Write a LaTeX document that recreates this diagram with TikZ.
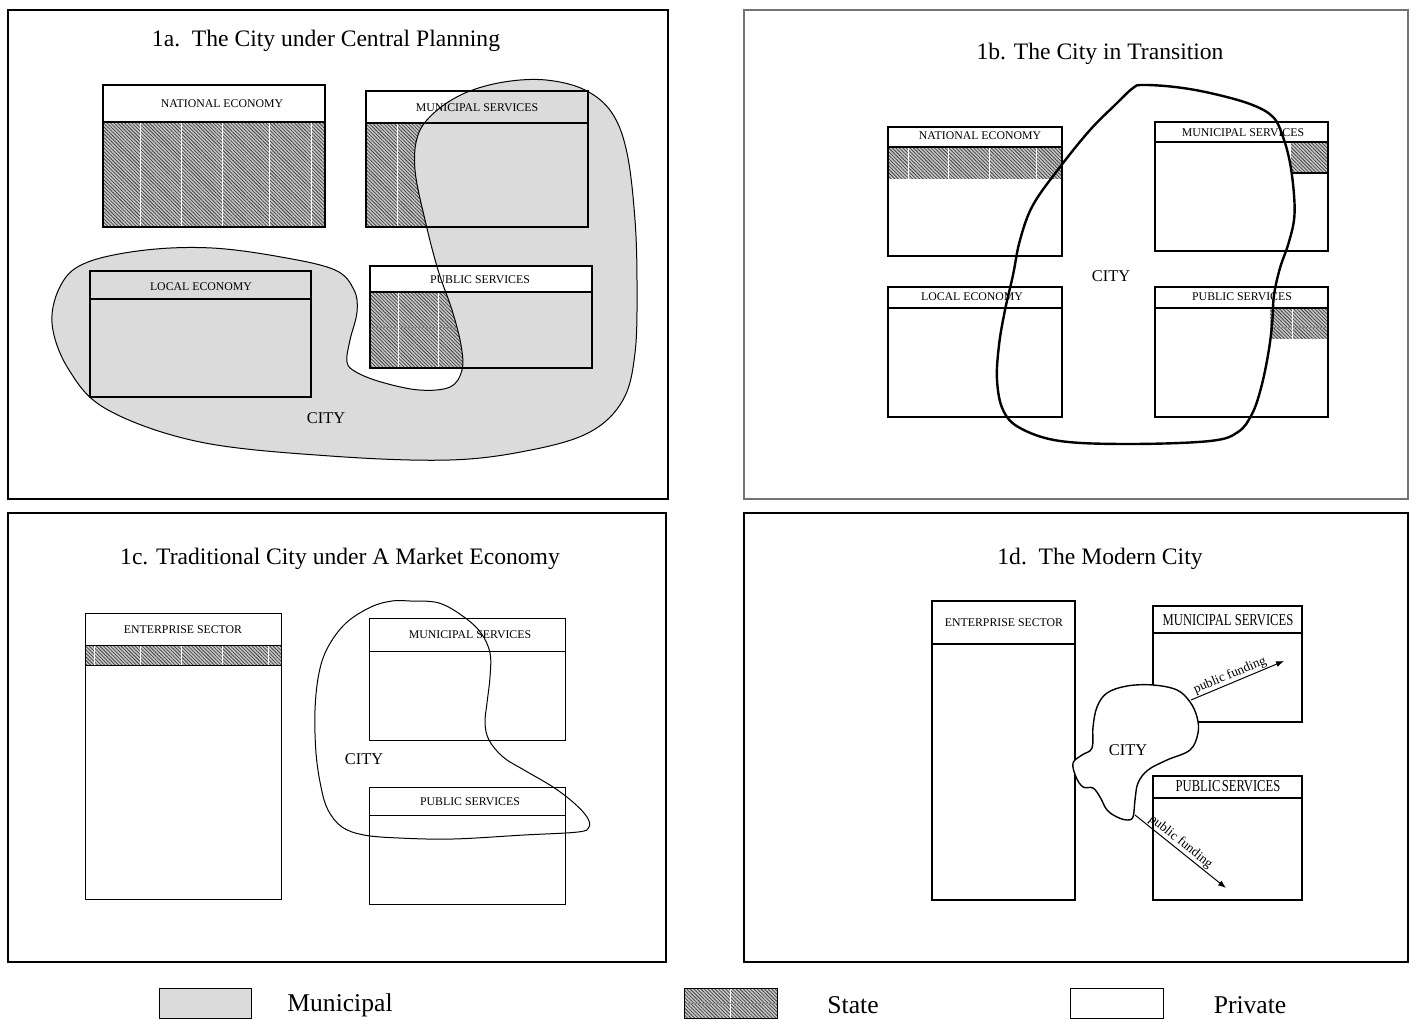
\documentclass[tikz,border=0pt]{standalone}
\usepackage{graphicx}
\usepackage{fontspec}
\setmainfont{Liberation Serif}
\usetikzlibrary{patterns.meta,arrows.meta}
\begin{document}
\begin{tikzpicture}[x=0.5pt,y=-0.5pt,
 panel/.style={draw=black,line width=1pt},
 paneltwo/.style={draw=black!55,line width=0.7pt},
 boxline/.style={draw=black,line width=0.7pt},
 thinbox/.style={draw=black,line width=0.5pt},
 sepline/.style={draw=black,line width=1pt},
 hatched/.style={preaction={fill=black!22},pattern={Lines[angle=-45,distance=1.25pt,line width=0.38pt]},pattern color=black!75},
 seam/.style={draw=white,line width=0.5pt},
 hseam/.style={draw=black!45,line width=0.4pt},
 cityfill/.style={fill=black!14},
 hdr/.style={font=\fontsize{5.9}{7}\selectfont,inner sep=0pt},
 ttl/.style={font=\fontsize{11.8}{14}\selectfont,inner sep=0pt},
 citylbl/.style={font=\fontsize{8.2}{10}\selectfont,inner sep=0pt},
 leg/.style={font=\fontsize{12.8}{15}\selectfont,inner sep=0pt},
 fund/.style={font=\fontsize{6.6}{8}\selectfont,inner sep=0.5pt},
 flow/.style={-{Latex[length=4pt,width=3pt]},line width=0.5pt},
]
\useasboundingbox (0,0) rectangle (1416,1020);
\fill[white] (0,0) rectangle (1416,1020);

% ---------- panels ----------
\draw[panel] (8,10) rectangle (668,499);
\draw[paneltwo] (744,10) rectangle (1408,499);
\draw[panel] (8,513) rectangle (666,962);
\draw[panel] (744,513) rectangle (1408,962);

% ================= 1a =================
\node[ttl] (ta) at (326,41) {1a.\ \ The City under Central Planning};
\path[hatched] (103,122) rectangle (325,227);
\foreach \x in {140,181,222,269,311} \draw[seam] (\x,122) -- (\x,227);
\path[hatched] (366,123) rectangle (588,227);
\draw[seam] (397,123) -- (397,227);
\path[hatched] (370,292) rectangle (592,368);
\draw[hseam] (370,327) -- (592,327);
\foreach \x in {398,438} \draw[seam] (\x,292) -- (\x,368);
\fill[cityfill] plot[smooth cycle,tension=0.6] coordinates {
 (52,323) (62,283) (88,262) (146,250) (212,248) (281,257) (335,270) (354,290)
 (357,312) (350,340) (347,362) (356,372) (381,382) (419,390) (450,387) (462,370)
 (461,345) (452,310) (438,270) (425,220) (415,170) (418,135) (435,112) (465,93)
 (504,82) (546,80) (585,90) (612,113) (627,153) (635,220) (637,287) (635,353)
 (623,400) (590,432) (531,450) (450,460) (330,456) (200,442) (108,410) (69,370)};
\fill[white] (370,266) rectangle (592,292);
\draw[boxline] (103,85) rectangle (325,227);
\draw[boxline] (103,122) -- (325,122);
\draw[boxline] (366,91) rectangle (588,227);
\draw[sepline] (366,123) -- (588,123);
\draw[boxline] (370,266) rectangle (592,368);
\draw[sepline] (370,292) -- (592,292);
\draw[boxline] (90,271) rectangle (311,397);
\draw[sepline] (90,299) -- (311,299);
\node[hdr] (a1) at (222,104) {NATIONAL ECONOMY};
\node[hdr] (a2) at (477,108) {MUNICIPAL SERVICES};
\node[hdr] (a3) at (480,280) {PUBLIC SERVICES};
\node[hdr] (a4) at (201,287) {LOCAL ECONOMY};
\draw[line width=0.5pt] plot[smooth cycle,tension=0.6] coordinates {
 (52,323) (62,283) (88,262) (146,250) (212,248) (281,257) (335,270) (354,290)
 (357,312) (350,340) (347,362) (356,372) (381,382) (419,390) (450,387) (462,370)
 (461,345) (452,310) (438,270) (425,220) (415,170) (418,135) (435,112) (465,93)
 (504,82) (546,80) (585,90) (612,113) (627,153) (635,220) (637,287) (635,353)
 (623,400) (590,432) (531,450) (450,460) (330,456) (200,442) (108,410) (69,370)};
\node[citylbl] (ca) at (326,418) {CITY};

% ================= 1b =================
\node[ttl] (tb) at (1100,54) {1b. The City in Transition};
\path[hatched] (888,147) rectangle (1062,179);
\foreach \x in {908,948,989,1036} \draw[seam] (\x,147) -- (\x,179);
\path[hatched] (1291,142) rectangle (1328,173);
\draw[boxline] (1291,173) -- (1328,173);
\path[hatched] (1270,308) rectangle (1328,339);
\draw[hseam] (1270,327) -- (1328,327);
\draw[seam] (1292,308) -- (1292,339);
\draw[boxline] (888,127) rectangle (1062,256);
\draw[sepline] (888,147) -- (1062,147);
\draw[boxline] (1155,122) rectangle (1328,251);
\draw[sepline] (1155,142) -- (1328,142);
\draw[boxline] (888,287) rectangle (1062,417);
\draw[sepline] (888,308) -- (1062,308);
\draw[boxline] (1155,287) rectangle (1328,417);
\draw[sepline] (1155,308) -- (1328,308);
\node[hdr] (b1) at (980,136) {NATIONAL ECONOMY};
\node[hdr] (b2) at (1243,133) {MUNICIPAL SERVICES};
\node[hdr] (b3) at (972,297) {LOCAL ECONOMY};
\node[hdr] (b4) at (1242,297) {PUBLIC SERVICES};
\draw[line width=1.2pt] plot[smooth cycle,tension=0.6] coordinates {
 (1143,85) (1175,87) (1210,93) (1250,104) (1273,117) (1283,137) (1290,163)
 (1294,195) (1294,220) (1288,245) (1280,268) (1274,295) (1272,325) (1268,355)
 (1261,388) (1252,414) (1238,432) (1210,441) (1130,444) (1060,441) (1020,428)
 (1003,410) (997,380) (999,345) (1005,310) (1013,275) (1020,240) (1033,205)
 (1060,167) (1090,130) (1115,105) (1133,88)};
\node[citylbl] (cb) at (1111,276) {CITY};

% ================= 1c =================
\node[ttl] (tc) at (340,559) {1c. Traditional City under A Market Economy};
\path[hatched] (85,645) rectangle (281,665);
\foreach \x in {94,140,181,222,268} \draw[seam] (\x,645) -- (\x,665);
\draw[thinbox] (85,613) rectangle (281,899);
\draw[thinbox] (85,645) -- (281,645);
\draw[thinbox] (85,665) -- (281,665);
\draw[thinbox] (369,618) rectangle (565,740);
\draw[thinbox] (369,651) -- (565,651);
\draw[thinbox] (369,787) rectangle (565,904);
\draw[thinbox] (369,815) -- (565,815);
\node[hdr] (c1) at (183,630) {ENTERPRISE SECTOR};
\node[hdr] (c2) at (470,635) {MUNICIPAL SERVICES};
\node[hdr] (c3) at (470,802) {PUBLIC SERVICES};
\draw[line width=0.5pt] plot[smooth cycle,tension=0.6] coordinates {
 (410,601) (439,603) (464,617) (481,633) (490,653) (490,677) (487,703) (485,723)
 (489,740) (503,757) (524,770) (553,787) (574,803) (587,817) (589,827) (578,832)
 (524,835) (453,839) (399,838) (364,835) (342,827) (328,810) (321,787) (316,753)
 (315,710) (319,673) (328,647) (346,623) (371,607) (392,601)};
\node[citylbl] (cc) at (364,759) {CITY};

% ================= 1d =================
\node[ttl] (td) at (1100,559) {1d.\ \ The Modern City};
\draw[boxline] (932,601) rectangle (1075,900);
\draw[boxline] (932,644) -- (1075,644);
\draw[boxline] (1153,606) rectangle (1302,722);
\draw[boxline] (1153,633) -- (1302,633);
\draw[boxline] (1153,776) rectangle (1302,900);
\draw[sepline] (1153,798) -- (1302,798);
\node[hdr] (d1) at (1004,623) {ENTERPRISE SECTOR};
\node[inner sep=0pt] (d2) at (1228,620) {\scalebox{0.76}[1]{\fontsize{8.3}{9}\selectfont MUNICIPAL SERVICES}};
\node[inner sep=0pt] (d3) at (1228,786) {\scalebox{0.76}[1]{\fontsize{8.3}{9}\selectfont PUBLIC\hspace{0.1em}SERVICES}};
\filldraw[fill=white,draw=black,line width=0.7pt] plot[smooth cycle,tension=0.6] coordinates {
 (1073,763) (1082,755) (1092,748) (1093,727) (1097,707) (1107,693) (1127,686)
 (1153,685) (1177,690) (1190,702) (1197,717) (1198,733) (1190,750) (1167,760)
 (1148,770) (1138,783) (1135,800) (1133,817) (1127,820) (1117,817) (1107,810)
 (1100,797) (1093,788) (1083,787) (1076,777)};
\node[citylbl] (cd) at (1128,750) {CITY};
\coordinate (m1) at (1191,700);
\coordinate (m2) at (1284,661);
\coordinate (p1) at (1135,815);
\coordinate (p2) at (1226,888);
\draw[flow] (m1) -- node[fund,sloped,above,pos=0.45] (f1) {public funding} (m2);
\draw[flow] (p1) -- node[fund,sloped,above,pos=0.45] (f2) {public funding} (p2);

% ================= legend =================
\draw[thinbox,fill=black!14] (159,988) rectangle (251,1018);
\path[hatched] (684,988) rectangle (777,1018);
\draw[seam] (730,988) -- (730,1018);
\draw[hseam] (684,1003) -- (777,1003);
\draw[thinbox] (684,988) rectangle (777,1018);
\draw[thinbox] (1070,988) rectangle (1163,1018);
\node[leg] (l1) at (340,1005) {Municipal};
\node[leg] (l2) at (853,1005) {State};
\node[leg] (l3) at (1250,1005) {Private};
\end{tikzpicture}
\end{document}
